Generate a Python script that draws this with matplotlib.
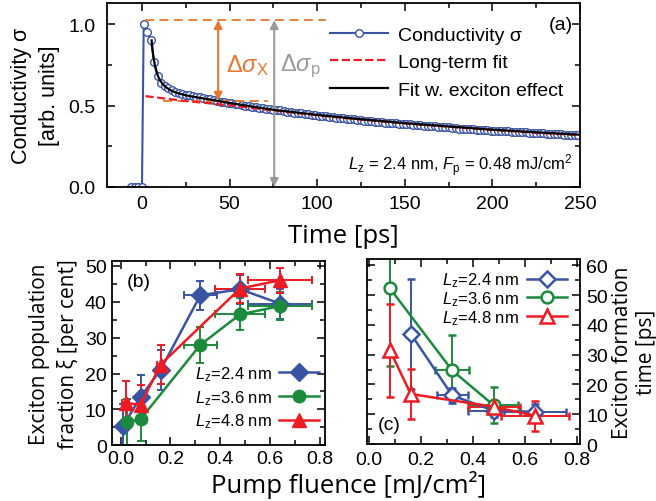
import matplotlib
matplotlib.use("Agg")
import matplotlib.pyplot as plt
from matplotlib.lines import Line2D
from matplotlib.ticker import MultipleLocator

plt.rcParams['font.family'] = ['Liberation Sans', 'DejaVu Sans']
plt.rcParams['mathtext.fontset'] = 'custom'
plt.rcParams['mathtext.rm'] = 'Liberation Sans'
plt.rcParams['mathtext.it'] = 'Liberation Sans:italic'
plt.rcParams['xtick.direction'] = 'in'
plt.rcParams['ytick.direction'] = 'in'
plt.rcParams['xtick.top'] = True
plt.rcParams['ytick.right'] = True
plt.rcParams['xtick.major.size'] = 6
plt.rcParams['ytick.major.size'] = 6
plt.rcParams['xtick.minor.size'] = 3.5
plt.rcParams['ytick.minor.size'] = 3.5
plt.rcParams['xtick.major.width'] = 1.1
plt.rcParams['ytick.major.width'] = 1.1
plt.rcParams['xtick.minor.width'] = 1.1
plt.rcParams['ytick.minor.width'] = 1.1
plt.rcParams['axes.linewidth'] = 1.3

BLUE = '#3a54a4'
GREEN = '#1c8a3c'
RED = '#ed1c24'
ORANGE = '#e8772e'
GRAY = '#9a9a9a'
LABEL_FONT = ['Open Sans', 'DejaVu Sans']

# ---- panel (a): conductivity transient ----
time_ps = [-6, -4, -2, 0,
           1, 3, 5, 7, 9, 11, 13, 15, 17, 19, 21, 23, 25, 27, 29, 31, 33, 35, 37, 39, 41, 43, 45, 47, 49,
           51, 53, 55, 57, 59, 61, 63, 65, 67, 69, 71, 73, 75, 77, 79, 81, 83, 85, 87, 89, 91, 93, 95, 97, 99,
           101, 103, 105, 107, 109, 111, 113, 115, 117, 119, 121, 123, 125, 127, 129, 131, 133, 135, 137, 139,
           141, 143, 145, 147, 149,
           151, 153, 155, 157, 159, 161, 163, 165, 167, 169, 171, 173, 175, 177, 179, 181, 183, 185, 187, 189,
           191, 193, 195, 197, 199,
           201, 203, 205, 207, 209, 211, 213, 215, 217, 219, 221, 223, 225, 227, 229, 231, 233, 235, 237, 239,
           241, 243, 245, 247, 249]
sigma = [0.0, 0.0, 0.0, 0.0,
         1.000, 0.955, 0.900, 0.770, 0.680, 0.640, 0.620, 0.605, 0.595, 0.585, 0.578, 0.572, 0.566, 0.568,
         0.560, 0.555, 0.551, 0.548, 0.541, 0.538, 0.534, 0.531, 0.525, 0.523, 0.517,
         0.514, 0.509, 0.507, 0.503, 0.500, 0.497, 0.494, 0.489, 0.487, 0.483, 0.479, 0.476, 0.472, 0.470,
         0.472, 0.468, 0.463, 0.459, 0.456, 0.452, 0.453, 0.449, 0.446, 0.442, 0.440,
         0.438, 0.437, 0.433, 0.431, 0.428, 0.426, 0.424, 0.421, 0.420, 0.416, 0.415, 0.413, 0.410, 0.408,
         0.407, 0.403, 0.402, 0.399, 0.398, 0.396, 0.395, 0.392, 0.391, 0.389, 0.387,
         0.386, 0.385, 0.382, 0.381, 0.379, 0.377, 0.376, 0.373, 0.372, 0.370, 0.369, 0.367, 0.366, 0.364,
         0.361, 0.358, 0.356, 0.355, 0.357, 0.355, 0.353, 0.352, 0.350, 0.349, 0.347,
         0.346, 0.345, 0.344, 0.342, 0.341, 0.340, 0.339, 0.337, 0.336, 0.335, 0.334, 0.333, 0.331, 0.330,
         0.329, 0.328, 0.327, 0.326, 0.324, 0.323, 0.322, 0.321, 0.320, 0.319, 0.318]

longfit_t = [2, 25, 50, 75, 100, 125, 150, 175, 200, 225, 250]
longfit_v = [0.558, 0.528, 0.502, 0.470, 0.440, 0.414, 0.390, 0.370, 0.350, 0.333, 0.318]

excfit_t = [5.5, 6.5, 7.5, 8.5, 10, 12, 14, 17, 20, 25, 30, 40, 50, 75, 100, 125, 150, 175, 200, 225, 250]
excfit_v = [0.90, 0.80, 0.74, 0.70, 0.66, 0.63, 0.61, 0.59, 0.578, 0.563, 0.553, 0.535, 0.516, 0.474,
            0.443, 0.416, 0.392, 0.372, 0.352, 0.336, 0.321]

# ---- panel (b): exciton population fraction ----
b24_x = [0.01, 0.08, 0.16, 0.32, 0.48, 0.64]
b24_y = [5.5, 13.5, 21.0, 41.8, 43.5, 39.5]
b24_yerr = [6.0, 6.0, 5.5, 4.0, 4.0, 4.2]
b24_xerr = [0.0, 0.0, 0.02, 0.065, 0.1, 0.13]

b36_x = [0.025, 0.08, 0.32, 0.48, 0.64]
b36_y = [6.5, 7.3, 28.0, 36.5, 38.8]
b36_yerr = [6.5, 6.2, 5.0, 4.5, 3.8]
b36_xerr = [0.0, 0.0, 0.065, 0.1, 0.13]

b48_x = [0.02, 0.08, 0.16, 0.48, 0.64]
b48_y = [11.8, 11.3, 22.5, 43.7, 46.0]
b48_yerr = [6.0, 5.5, 5.4, 4.0, 3.5]
b48_xerr = [0.015, 0.0, 0.015, 0.1, 0.13]

# ---- panel (c): exciton formation time ----
c24_x = [0.16, 0.32, 0.48, 0.64]
c24_y = [37.0, 16.3, 11.2, 10.8]
c24_yerr = [18.5, 2.5, 2.0, 2.5]
c24_xerr = [0.02, 0.06, 0.1, 0.12]

c36_x = [0.08, 0.32, 0.48]
c36_y = [52.2, 24.7, 13.0]
c36_yerr_lo = [26.0, 8.5, 6.0]
c36_yerr_hi = [26.0, 12.0, 6.0]
c36_xerr = [0.0, 0.065, 0.095]

c48_x = [0.08, 0.16, 0.48, 0.64]
c48_y = [31.4, 16.8, 12.5, 9.5]
c48_yerr = [15.5, 8.5, 2.0, 5.0]
c48_xerr = [0.0, 0.0, 0.1, 0.13]

series_labels = [r'$L_\mathrm{z}$=2.4 nm', r'$L_\mathrm{z}$=3.6 nm', r'$L_\mathrm{z}$=4.8 nm']

fig = plt.figure(figsize=(6.56, 5.02), dpi=100)

# panel (a)
ax = fig.add_axes([0.163, 0.6255, 0.721, 0.3665])
ax.plot(time_ps, sigma, '-o', color=BLUE, lw=1.5, ms=5.5, mfc='white', mec=BLUE, mew=1.0,
        label='Conductivity σ', zorder=2)
ax.plot(longfit_t, longfit_v, '--', color=RED, lw=1.6, label='Long-term fit', zorder=3)
ax.plot(excfit_t, excfit_v, '-', color='black', lw=1.6, label='Fit w. exciton effect', zorder=4)
ax.plot([2, 105], [1.025, 1.025], '--', color=ORANGE, lw=1.3, dashes=(5, 3))
ax.plot([12, 72], [0.53, 0.53], '--', color=ORANGE, lw=1.3, dashes=(5, 3))
ax.annotate('', xy=(43.5, 0.53), xytext=(43.5, 1.025),
            arrowprops=dict(arrowstyle='<|-|>', color=ORANGE, lw=1.5, mutation_scale=12, shrinkA=0, shrinkB=0))
ax.annotate('', xy=(75.5, 0.0), xytext=(75.5, 1.025),
            arrowprops=dict(arrowstyle='<|-|>', color=GRAY, lw=1.5, mutation_scale=12, shrinkA=0, shrinkB=0))
ax.text(48, 0.75, r'$\Delta\sigma_\mathrm{X}$', color=ORANGE, fontsize=17, va='center')
ax.text(79, 0.75, r'$\Delta\sigma_\mathrm{p}$', color=GRAY, fontsize=17, va='center')
ax.text(0.985, 0.93, '(a)', transform=ax.transAxes, ha='right', va='top', fontsize=14)
ax.text(0.985, 0.095, r'$L_\mathrm{z}$ = 2.4 nm, $F_\mathrm{p}$ = 0.48 mJ/cm$^2$', transform=ax.transAxes,
        ha='right', va='baseline', fontsize=12)
ax.set_xlim(-20, 250)
ax.set_ylim(0, 1.13)
ax.set_xticks([0, 50, 100, 150, 200, 250])
ax.xaxis.set_minor_locator(MultipleLocator(25))
ax.set_yticks([0.0, 0.5, 1.0])
ax.set_yticklabels(['0.0', '0.5', '1.0'])
ax.yaxis.set_minor_locator(MultipleLocator(0.25))
ax.tick_params(labelsize=14)
ax.tick_params(axis='x', pad=6)
ax.tick_params(axis='y', pad=8)
ax.set_xlabel('Time [ps]', fontsize=18.5, family=LABEL_FONT, labelpad=8)
ax.set_ylabel('Conductivity σ\n[arb. units]', fontsize=15.5, linespacing=1.45, labelpad=6)
ax.legend(loc='upper left', bbox_to_anchor=(0.455, 0.916), borderaxespad=0, frameon=False, fontsize=14,
          handlelength=3.0, labelspacing=0.5, handletextpad=0.5)

# panel (b)
axb = fig.add_axes([0.170, 0.111, 0.325, 0.368])
for x, y, ye, xe, col, mk, ms in [(b24_x, b24_y, b24_yerr, b24_xerr, BLUE, 'D', 9),
                                   (b36_x, b36_y, b36_yerr, b36_xerr, GREEN, 'o', 9),
                                   (b48_x, b48_y, b48_yerr, b48_xerr, RED, '^', 10.5)]:
    axb.errorbar(x, y, yerr=ye, xerr=xe, fmt='-' + mk, color=col, ms=ms, lw=1.8,
                 elinewidth=1.4, capsize=3, capthick=1.4)
axb.set_xlim(-0.037, 0.82)
axb.set_ylim(0, 51.5)
axb.set_xticks([0.0, 0.2, 0.4, 0.6, 0.8])
axb.set_xticklabels(['0.0', '0.2', '0.4', '0.6', '0.8'])
axb.xaxis.set_minor_locator(MultipleLocator(0.1))
axb.set_yticks([0, 10, 20, 30, 40, 50])
axb.yaxis.set_minor_locator(MultipleLocator(5))
axb.tick_params(labelsize=14)
axb.set_ylabel('Exciton population\nfraction ξ [per cent]', fontsize=15, family=LABEL_FONT,
               linespacing=1.4, labelpad=4)
axb.text(0.07, 0.935, '(b)', transform=axb.transAxes, ha='left', va='top', fontsize=14)
hb = [Line2D([], [], color=BLUE, marker='D', ms=9, lw=1.8),
      Line2D([], [], color=GREEN, marker='o', ms=9, lw=1.8),
      Line2D([], [], color=RED, marker='^', ms=10.5, lw=1.8)]
axb.legend(hb, series_labels, loc='lower right', bbox_to_anchor=(1.005, 0.045), borderaxespad=0,
           frameon=False, fontsize=12, markerfirst=False, handlelength=2.4, labelspacing=0.3,
           handletextpad=0.45)

# panel (c)
axc = fig.add_axes([0.559, 0.1135, 0.325, 0.368])
axc.errorbar(c24_x, c24_y, yerr=c24_yerr, xerr=c24_xerr, fmt='-D', color=BLUE, ms=8.5, mfc='white',
             mew=1.8, lw=1.8, elinewidth=1.4, capsize=3, capthick=1.4)
axc.errorbar(c36_x, c36_y, yerr=[c36_yerr_lo, c36_yerr_hi], xerr=c36_xerr, fmt='-o', color=GREEN, ms=8.5,
             mfc='white', mew=1.8, lw=1.8, elinewidth=1.4, capsize=3, capthick=1.4)
axc.errorbar(c48_x, c48_y, yerr=c48_yerr, xerr=c48_xerr, fmt='-^', color=RED, ms=9.5, mfc='white',
             mew=1.8, lw=1.8, elinewidth=1.4, capsize=3, capthick=1.4)
axc.set_xlim(-0.01, 0.813)
axc.set_ylim(0, 62)
axc.set_xticks([0.0, 0.2, 0.4, 0.6, 0.8])
axc.set_xticklabels(['0.0', '0.2', '0.4', '0.6', '0.8'])
axc.xaxis.set_minor_locator(MultipleLocator(0.1))
axc.set_yticks([0, 10, 20, 30, 40, 50, 60])
axc.yaxis.set_minor_locator(MultipleLocator(5))
axc.tick_params(labelsize=14, labelleft=False, labelright=True)
axc.tick_params(axis='x', pad=5)
axc.tick_params(axis='y', pad=4.5)
axc.yaxis.set_label_position('right')
axc.set_ylabel('Exciton formation\ntime [ps]', fontsize=15, family=LABEL_FONT, linespacing=1.2,
               rotation=90, labelpad=2.5)
axc.text(0.05, 0.06, '(c)', transform=axc.transAxes, ha='left', va='bottom', fontsize=14)
hc = [Line2D([], [], color=BLUE, marker='D', ms=8.5, mfc='white', mew=1.8, lw=1.8),
      Line2D([], [], color=GREEN, marker='o', ms=8.5, mfc='white', mew=1.8, lw=1.8),
      Line2D([], [], color=RED, marker='^', ms=9.5, mfc='white', mew=1.8, lw=1.8)]
axc.legend(hc, series_labels, loc='upper right', bbox_to_anchor=(0.97, 0.975), borderaxespad=0,
           frameon=False, fontsize=12, markerfirst=False, handlelength=2.4, labelspacing=0.0,
           handletextpad=0.45)

fig.text(0.532, 0.034, 'Pump fluence [mJ/cm²]', ha='center', va='center', fontsize=18.5, family=LABEL_FONT)

fig.savefig('out.png', dpi=100)
